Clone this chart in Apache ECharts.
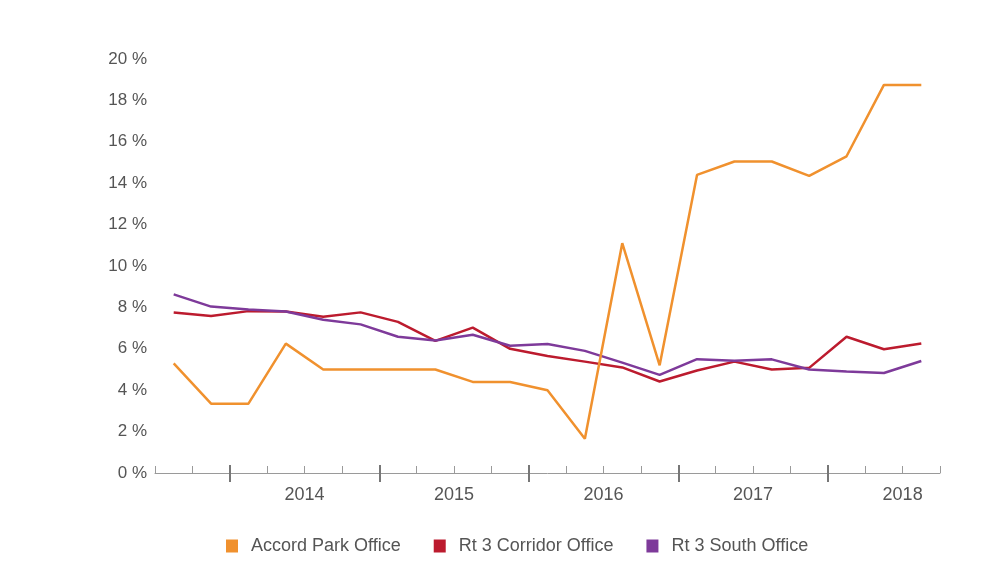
<!DOCTYPE html>
<html>
<head>
<meta charset="utf-8">
<script src="https://cdn.jsdelivr.net/npm/echarts@6/dist/echarts.min.js"></script>
<style>html,body{margin:0;padding:0;background:#fff;}#c{width:1002px;height:567px;}</style>
</head>
<body>
<div id="c"></div>
<script>
const categories = ['2013 Q3','2013 Q4','2014 Q1','2014 Q2','2014 Q3','2014 Q4','2015 Q1','2015 Q2','2015 Q3','2015 Q4','2016 Q1','2016 Q2','2016 Q3','2016 Q4','2017 Q1','2017 Q2','2017 Q3','2017 Q4','2018 Q1','2018 Q2','2018 Q3'];
const accordPark = [5.3,3.35,3.35,6.25,5.0,5.0,5.0,5.0,4.4,4.4,4.0,1.65,11.1,5.2,14.4,15.05,15.05,14.35,15.3,18.75,18.75];
const rt3Corridor = [7.75,7.58,7.82,7.8,7.55,7.76,7.3,6.38,7.02,6.0,5.65,5.38,5.1,4.42,4.95,5.38,5.0,5.08,6.58,5.98,6.26];
const rt3South = [8.63,8.04,7.9,7.8,7.4,7.18,6.58,6.4,6.68,6.15,6.23,5.9,5.33,4.74,5.5,5.42,5.49,5.0,4.9,4.83,5.41];
const yearLabels = ['2014','2015','2016','2017','2018'];
const seriesNames = ['Accord Park Office','Rt 3 Corridor Office','Rt 3 South Office'];
const colors = ['#F0912E','#BC1B2E','#7E3A9A'];

// quarter boundaries where each year starts, and year centres, in quarter units from the axis start
const yearStarts = yearLabels.map((y) => categories.indexOf(y + ' Q1'));
const yearCentres = yearStarts.map((s) => s + 2);

const font = 'Liberation Sans, Arial, sans-serif';
const chart = echarts.init(document.getElementById('c'));
const n = categories.length;
chart.setOption({
  animation: false,
  color: colors,
  grid: {left: 155, right: 62, top: 59, bottom: 94},
  legend: {
    top: 532, left: 221,
    icon: 'rect', itemWidth: 12, itemHeight: 13, itemGap: 33,
    textStyle: {color: '#555', fontSize: 18, fontFamily: font, padding: [0, 0, 0, 8]},
    data: seriesNames
  },
  xAxis: [
    {type: 'category', data: categories, boundaryGap: true, position: 'bottom',
     axisLine: {show: true, lineStyle: {color: '#9a9a9a', width: 1}},
     axisTick: {show: true, inside: true, length: 7, interval: 0, lineStyle: {color: '#9a9a9a'}},
     axisLabel: {show: false}, splitLine: {show: false}},
    {type: 'value', min: 0, max: n, position: 'bottom',
     axisLine: {show: false},
     axisTick: {show: true, inside: true, length: 8, customValues: yearStarts, lineStyle: {color: '#777', width: 2}},
     axisLabel: {show: false}, splitLine: {show: false}},
    {type: 'value', min: 0, max: n, position: 'bottom',
     axisLine: {show: false},
     axisTick: {show: true, inside: false, length: 9, customValues: yearStarts, lineStyle: {color: '#777', width: 2}},
     axisLabel: {show: false}, splitLine: {show: false}},
    {type: 'value', min: 0, max: n, position: 'bottom',
     axisLine: {show: false}, axisTick: {show: false}, splitLine: {show: false},
     axisLabel: {show: true, margin: 13, color: '#555', fontSize: 18, fontFamily: font,
       customValues: yearCentres,
       formatter: function (v) {
         const k = yearCentres.indexOf(v);
         return k >= 0 ? yearLabels[k] : '';
       }}}
  ],
  yAxis: {
    type: 'value', min: 0, max: 20, interval: 2,
    axisLine: {show: false}, axisTick: {show: false}, splitLine: {show: false},
    axisLabel: {formatter: '{value} %', color: '#555', fontSize: 17, fontFamily: font, margin: 8}
  },
  series: [
    {name: seriesNames[0], type: 'line', data: accordPark, showSymbol: false, symbol: 'none', lineStyle: {width: 2.5, color: colors[0]}, itemStyle: {color: colors[0]}, z: 3},
    {name: seriesNames[1], type: 'line', data: rt3Corridor, showSymbol: false, symbol: 'none', lineStyle: {width: 2.5, color: colors[1]}, itemStyle: {color: colors[1]}, z: 2},
    {name: seriesNames[2], type: 'line', data: rt3South, showSymbol: false, symbol: 'none', lineStyle: {width: 2.5, color: colors[2]}, itemStyle: {color: colors[2]}, z: 2}
  ]
});
</script>
</body>
</html>
